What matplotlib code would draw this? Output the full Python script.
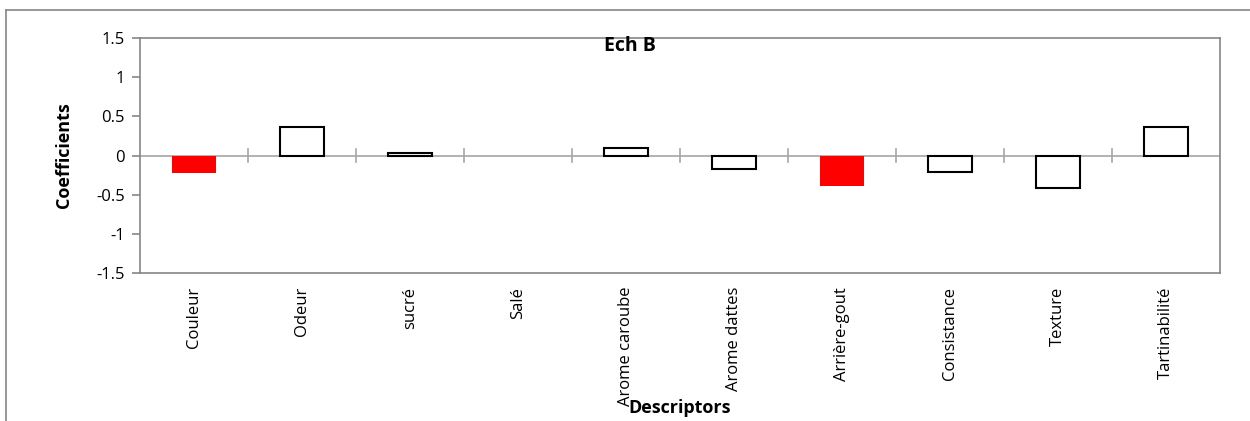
import matplotlib.pyplot as plt
import numpy as np

plt.rcParams['font.family'] = ['Open Sans', 'DejaVu Sans']

descriptors = ["Couleur", "Odeur", "sucré", "Salé", "Arome caroube", "Arome dattes",
               "Arrière-gout", "Consistance", "Texture", "Tartinabilité"]
coefficients = [-0.22, 0.37, 0.035, 0.0, 0.10, -0.17, -0.39, -0.21, -0.41, 0.37]
significant = [True, False, False, False, False, False, True, False, False, False]

grey = "#868686"

fig = plt.figure(figsize=(12.5, 4.21), dpi=100)
# outer chart frame (cropped at right and bottom)
fig.add_artist(plt.Line2D([6/1250, 1.0], [1 - 10/421, 1 - 10/421], color=grey, lw=1.2))
fig.add_artist(plt.Line2D([6/1250, 6/1250], [0.0, 1 - 10/421], color=grey, lw=1.2))

ax = fig.add_axes([140/1250, 1 - 273/421, 1080/1250, 235/421])

x = np.arange(len(descriptors))
for xi, v, sig in zip(x, coefficients, significant):
    if sig:
        ax.bar(xi, v, width=0.4, color="red", edgecolor="none", zorder=3)
    else:
        ax.bar(xi, v, width=0.4, color="white", edgecolor="black",
               linewidth=1.5 if v != 0 else 0, zorder=3)

ax.axhline(0, color="#a6a6a6", lw=1.2, zorder=2)
# category separator ticks on the zero line
for b in np.arange(0.5, len(descriptors) - 1, 1):
    ax.plot([b, b], [-0.08, 0.08], color="#a6a6a6", lw=1.2, zorder=2)

ax.set_xlim(-0.5, len(descriptors) - 0.5)
ax.set_ylim(-1.5, 1.5)
ax.set_yticks(np.arange(-1.5, 1.51, 0.5))
ax.set_yticklabels(["-1.5", "-1", "-0.5", "0", "0.5", "1", "1.5"], fontsize=12)
ax.tick_params(axis="y", length=6, width=1.2, color=grey, pad=5)
ax.set_xticks(x)
ax.set_xticklabels(descriptors, rotation=90, fontsize=12, va="top", ha="center")
ax.tick_params(axis="x", length=0, pad=10)
for s in ax.spines.values():
    s.set_color(grey)
    s.set_linewidth(1.2)

ax.set_ylabel("Coefficients", fontsize=13, fontweight="bold")
ax.yaxis.set_label_coords(-0.062, 0.5)
fig.text(630/1250, 1 - 46/421, "Ech B", fontsize=14, fontweight="bold", ha="center", va="center")
fig.text(680/1250, 1 - 408/421, "Descriptors", fontsize=13, fontweight="bold", ha="center", va="center")

fig.savefig("out.png", dpi=100)
